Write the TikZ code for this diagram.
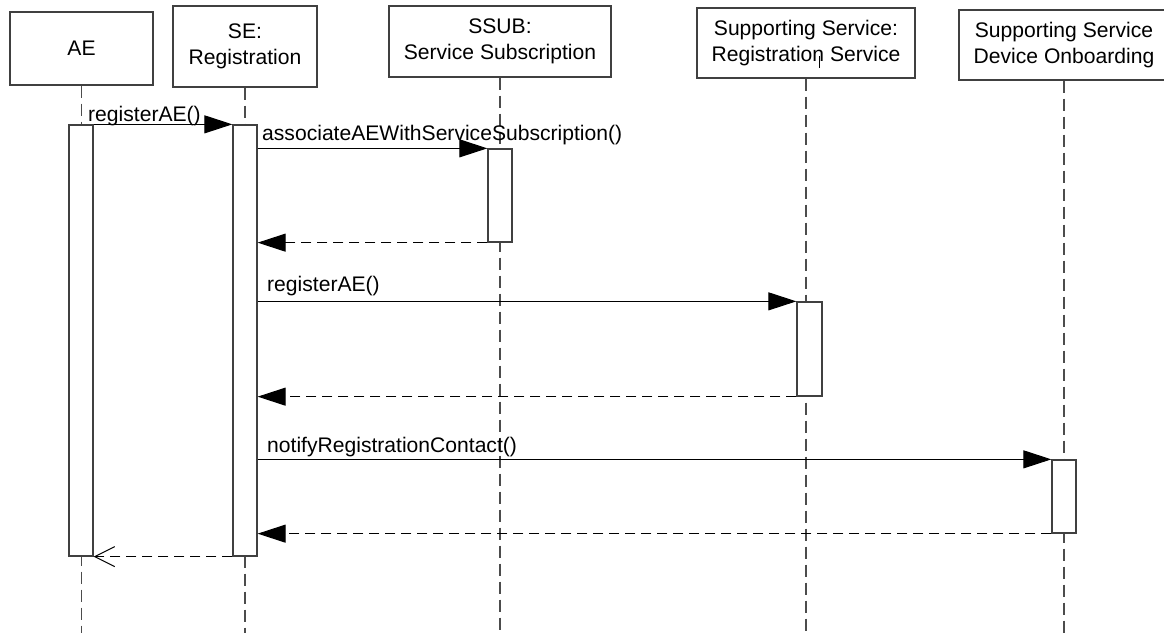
\documentclass[tikz,border=0pt]{standalone}
\usepackage{fontspec}
\setmainfont{Liberation Sans}
\usetikzlibrary{arrows.meta,calc}
\begin{document}
\begin{tikzpicture}[x=1pt,y=-1pt,
  every node/.style={font=\fontsize{21.1}{25.5}\selectfont, inner sep=0pt},
  objbox/.style={draw=black!75, line width=1.3pt, fill=white, align=center},
  actbar/.style={draw=black!75, line width=1.3pt, fill=white, minimum width=24pt},
  lifeline/.style={draw=black!70, line width=1.4pt, dash pattern=on 12pt off 6pt},
  msgcall/.style={draw=black, line width=1pt, -{Triangle[length=28pt,width=18pt]}},
  msgret/.style={draw=black, line width=1pt, dash pattern=on 10pt off 6pt, -{Triangle[length=28pt,width=18pt]}},
  msgretopen/.style={draw=black, line width=1pt, dash pattern=on 10pt off 6pt, -{Straight Barb[length=20pt,width=20pt,line width=1pt]}},
  msglabel/.style={anchor=base west}
]
\path[use as bounding box] (0,0) rectangle (1164,632);
\clip (0,0) rectangle (1164,632);
\fill[white] (0,0) rectangle (1164,632);

% object boxes
\node[objbox, minimum width=143pt, minimum height=73pt] (bAE) at (81.5,48.5) {AE};
\node[objbox, minimum width=144pt, minimum height=81pt] (bSE) at (245,46.5) {SE:\\Registration};
\node[objbox, minimum width=222pt, minimum height=71pt] (bSSUB) at (500,41.5) {SSUB:\\Service Subscription};
\node[objbox, minimum width=218pt, minimum height=70pt] (bREG) at (806,43) {Supporting Service:\\Registration Service};
\node[objbox, minimum width=210pt, minimum height=70pt] (bDEV) at (1064,45) {Supporting Service\\Device Onboarding};

% bottom coordinate for lifelines
\coordinate (bottom) at (0,640);

% lifelines
\draw[lifeline] (bAE.south) -- (bAE.south |- bottom);
\draw[lifeline] (bSE.south) -- (bSE.south |- bottom);
\draw[lifeline] (bSSUB.south) -- (bSSUB.south |- bottom);
\draw[lifeline] (bREG.south) -- (bREG.south |- bottom);
\draw[lifeline] (bDEV.south) -- (bDEV.south |- bottom);

% small tick in Registration Service box
\coordinate (tickA) at (819,56);
\coordinate (tickB) at (819,68);
\draw[black, line width=1pt] (tickA) -- (tickB);

% activation bars
\node[actbar, minimum height=431pt] (aAE) at (81,340.5) {};
\node[actbar, minimum height=431pt] (aSE) at (245,340.5) {};
\node[actbar, minimum height=93pt] (aSSUB) at (500,195.5) {};
\node[actbar, minimum width=25pt, minimum height=94pt] (aREG) at (809.5,349) {};
\node[actbar, minimum height=73pt] (aDEV) at (1064,496.5) {};

% messages
\draw[msgcall] (aAE.north east) -- (aSE.north west);
\node[msglabel] (l1) at (88,121) {registerAE()};

\draw[msgcall] (aSE.east |- aSSUB.north) -- (aSSUB.north west);
\node[msglabel] (l2) at (262,140) {associateAEWithServiceSubscription()};
\draw[msgret] (aSSUB.south west) -- (aSE.east |- aSSUB.south);

\draw[msgcall] (aSE.east |- aREG.north) -- (aREG.north west);
\node[msglabel] (l3) at (267,291) {registerAE()};
\draw[msgret] (aREG.south west) -- (aSE.east |- aREG.south);

\draw[msgcall] (aSE.east |- aDEV.north) -- (aDEV.north west);
\node[msglabel] (l4) at (267,452) {notifyRegistrationContact()};
\draw[msgret] (aDEV.south west) -- (aSE.east |- aDEV.south);

\draw[msgretopen] (aSE.south west) -- (aAE.south east);
\end{tikzpicture}
\end{document}
